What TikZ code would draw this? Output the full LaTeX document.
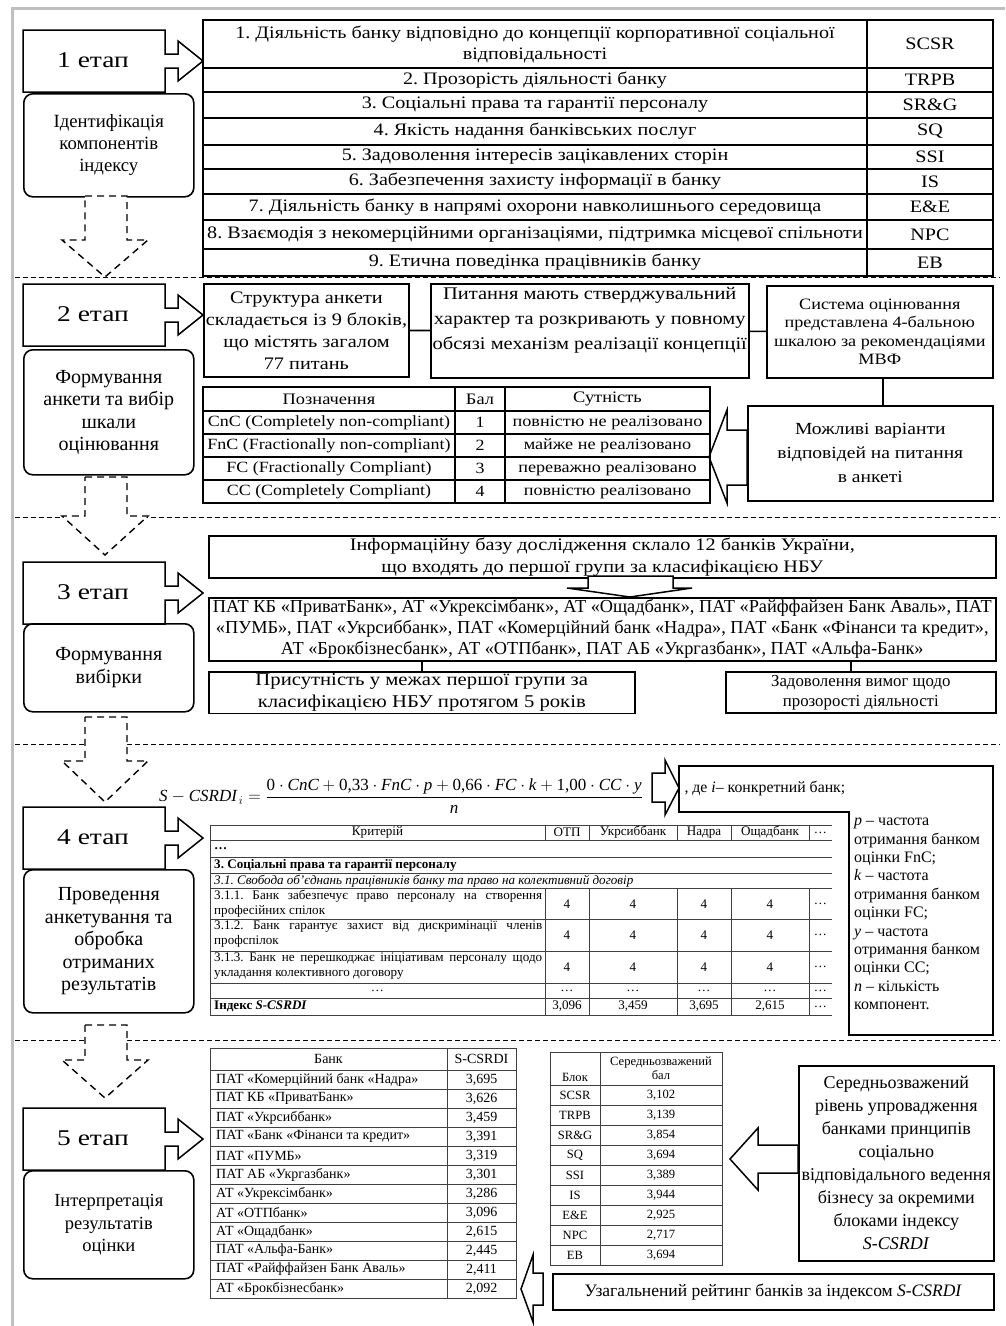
\documentclass[tikz,border=0pt]{standalone}
\usepackage{fontspec}
\usepackage{amsmath}
\setmainfont{Liberation Serif}
\newfontfamily\widefont[FakeStretch=1.15]{Liberation Serif}
\newfontfamily\widerfont[FakeStretch=1.22]{Liberation Serif}
\usetikzlibrary{positioning}
\frenchspacing

\begin{document}
\begin{tikzpicture}
  [
    x=1pt, y=-1pt,
    plainbox/.style  = {draw, line width=1.6pt, align=center, inner sep=2pt, anchor=north west},
    rbox/.style      = {plainbox, rounded corners=9pt, font=\fontsize{20}{22.5}\selectfont},
    etaplabel/.style = {font=\widerfont\fontsize{22.5}{26}\selectfont},
    txtrow/.style    = {align=center, inner sep=0pt, font=\widefont\fontsize{17.5}{21}\selectfont},
    txtwide/.style   = {align=center, font=\widefont\fontsize{18}{22}\selectfont},
    txtmid/.style    = {align=center, font=\widefont\fontsize{15.6}{19}\selectfont},
    txttab/.style    = {align=center, inner sep=0pt, font=\fontsize{13.1}{15.5}\selectfont},
    boldline/.style  = {line width=1.6pt},
    tabline/.style   = {line width=0.7pt, draw=black!75},
    stagesep/.style  = {dash pattern=on 5pt off 3pt, line width=1pt},
    dropshape/.style = {draw, dash pattern=on 7pt off 5pt, line width=1.4pt, fill=white},
    blockarrow/.style= {draw, line width=1.5pt, fill=white},
  ]

\useasboundingbox (0,0) rectangle (1005,1326);

%Grey frame of the figure
\draw[line width=3pt, black!25] (12,1326) -- (12,8) -- (1005,8);

%Dashed lines between the stages
\foreach \y in {277,517,744,1040}
  \draw[stagesep] (15,\y) -- (1000,\y);

%Stage boxes with their arrows, top of each box
\foreach [count=\i] \t in {30,284,562,807,1108}
{
\draw[blockarrow] (23,\t) -- (165,\t) -- (165,\t+24) -- (178,\t+24) -- (178,\t+11) -- (203,\t+31)
  -- (178,\t+51) -- (178,\t+38) -- (165,\t+38) -- (165,\t+62) -- (23,\t+62) -- cycle;
\node[etaplabel] (e\i) at (93,\t+30) {\i\ етап};
}

%Rounded boxes under the stage boxes
\node[rbox, minimum width=170, minimum height=103, font=\fontsize{18.7}{22}\selectfont] (r1) at (23,93)
  {Ідентифікація\\компонентів\\індексу};
\foreach [count=\i from 2] \t/\h/\txt in {349/125/{Формування\\анкети та вибір\\шкали\\оцінювання},
  623/88/{Формування\\вибірки},
  869/143/{Проведення\\анкетування та\\обробка\\отриманих\\результатів}}
  \node[rbox, minimum width=170, minimum height=\h] (r\i) at (23,\t) {\txt};
\node[rbox, minimum width=170, minimum height=108, font=\fontsize{18.5}{22.5}\selectfont] (r5) at (23,1170)
  {Інтерпретація\\результатів\\оцінки};

%Dashed arrows from stage to stage
\foreach \t/\hb/\tip in {196/240/277, 477/516/555, 717/761/802, 1025/1060/1098}
  \draw[dropshape] (85,\t) -- (127,\t) -- (127,\hb) -- (148,\hb) -- (105,\tip) -- (62,\hb) -- (85,\hb) -- cycle;

%Stage 1: components of the index
\draw[boldline] (203,20) rectangle (993,276);
\draw[boldline] (867,20) -- (867,276);
\foreach \y in {68,92,118,145,169,194,220,249}
  \draw[boldline] (203,\y) -- (993,\y);

\foreach [count=\i] \ya/\yb/\txt/\code in {
  20/68/{1. Діяльність банку відповідно до концепції корпоративної соціальної\\відповідальності}/SCSR,
  68/92/{2. Прозорість діяльності банку}/TRPB,
  92/118/{3. Соціальні права та гарантії персоналу}/{SR\&G},
  118/145/{4. Якість надання банківських послуг}/SQ,
  145/169/{5. Задоволення інтересів зацікавлених сторін}/SSI,
  169/194/{6. Забезпечення захисту інформації в банку}/IS,
  194/220/{7. Діяльність банку в напрямі охорони навколишнього середовища}/{E\&E},
  220/249/{8. Взаємодія з некомерційними організаціями, підтримка місцевої спільноти}/NPC,
  249/276/{9. Етична поведінка працівників банку}/EB}
{
\node[txtrow] (k\i) at (535,{(\ya+\yb)/2}) {\txt};
\node[txtrow] (kc\i) at (930,{(\ya+\yb)/2}) {\code};
}

%Stage 2: questionnaire
\node[plainbox, font=\widefont\fontsize{17.6}{22}\selectfont, minimum width=204, minimum height=93] (str) at (203,283)
  {Структура анкети\\складається із 9 блоків,\\що містять загалом\\77 питань};
\node[plainbox, minimum width=318, minimum height=94] (pyt) at (430,283) {};
\node[align=center, anchor=north, font=\widefont\fontsize{17.8}{25}\selectfont] (pyttxt) at ([yshift=-1pt]pyt.north)
  {Питання мають стверджувальний\\характер та розкривають у повному\\обсязі механізм реалізації концепції};
\node[plainbox, font=\widefont\fontsize{15.8}{18.5}\selectfont, minimum width=226, minimum height=92] (sys) at (766,285)
  {Система оцінювання\\представлена 4-бальною\\шкалою за рекомендаціями\\МВФ};
\node[plainbox, font=\widefont\fontsize{17}{24}\selectfont, minimum width=245, minimum height=95] (mozh) at (747,405)
  {Можливі варіанти\\відповідей на питання\\в анкеті};

\draw[boldline] (str) -- (pyt);
\draw[boldline] (pyt) -- (sys);
\draw[boldline] ([xshift=3pt]sys.south) -- ([xshift=3pt]sys.south |- mozh.north);

\draw[blockarrow] (mozh.west |- 0,430) -- (727,430) -- (727,410) -- (709,457) -- (727,503)
  -- (727,485) -- (mozh.west |- 0,485) -- cycle;

\draw[boldline] (203,387) rectangle (710,503);
\draw[boldline] (455,387) -- (455,503);
\draw[boldline] (505,387) -- (505,503);
\foreach \y in {411,434,457,480}
  \draw[boldline] (203,\y) -- (710,\y);

\node[txtmid, font=\widefont\fontsize{16}{19}\selectfont] (hd1) at (329,399) {Позначення};
\node[txtmid, font=\widefont\fontsize{16}{19}\selectfont] (hd2) at (480,399) {Бал};
\node[txtmid, font=\widefont\fontsize{16}{19}\selectfont] (hd3) at (607.5,399) {Сутність};
\foreach [count=\i] \lab/\what in {{CnC (Completely non-compliant)}/{повністю не реалізовано},
  {FnC (Fractionally non-compliant)}/{майже не реалізовано},
  {FC (Fractionally Compliant)}/{переважно реалізовано},
  {CC (Completely Compliant)}/{повністю реалізовано}}
{
\node[txtmid] (sc\i) at (329,{411+23*\i-11.5}) {\lab};
\node[txtmid] (sb\i) at (480,{411+23*\i-11.5}) {\i};
\node[txtmid, font=\widefont\fontsize{15.8}{19}\selectfont] (sw\i) at (607.5,{411+23*\i-11.5}) {\what};
}

%Stage 3: sample of banks
\node[plainbox, font=\widefont\fontsize{17.6}{22}\selectfont, minimum width=787, minimum height=41] (info) at (208,535)
  {Інформаційну базу дослідження склало 12 банків України,\\що входять до першої групи за класифікацією НБУ};
\node[plainbox, font=\fontsize{18.3}{21}\selectfont, minimum width=787, minimum height=60] (banks) at (208,597)
  {ПАТ КБ «ПриватБанк», АТ «Укрексімбанк», АТ «Ощадбанк», ПАТ «Райффайзен Банк Аваль», ПАТ\\
   «ПУМБ», ПАТ «Укрсиббанк», ПАТ «Комерційний банк «Надра», ПАТ «Банк «Фінанси та кредит»,\\
   АТ «Брокбізнесбанк», АТ «ОТПбанк», ПАТ АБ «Укргазбанк», ПАТ «Альфа-Банк»};
\node[plainbox, txtwide, minimum width=426, minimum height=41] (pres) at (208,671)
  {Присутність у межах першої групи за\\класифікацією НБУ протягом 5 років};
\node[plainbox, font=\fontsize{16.8}{20}\selectfont, minimum width=270, minimum height=41] (zad) at (725,671)
  {Задоволення вимог щодо\\прозорості діяльності};

\draw[blockarrow] (588,576) -- (673,576) -- (673,588) -- (692,588) -- (630,597) -- (567,588) -- (588,588) -- cycle;
\draw[boldline] (pres.north) -- (pres.north |- banks.south);
\draw[boldline] ([xshift=-10pt]zad.north) -- ([xshift=-10pt]zad.north |- banks.south);

%Stage 4: formula and survey table
\node[anchor=west, inner sep=0pt, font=\fontsize{17}{21}\selectfont] (frm) at (159,796)
  {$\textit{S}-\textit{CSRDI}_{\,i}=\dfrac{\text{0}\cdot\textit{CnC}+\text{0,33}\cdot\textit{FnC}\cdot\textit{p}
   +\text{0,66}\cdot\textit{FC}\cdot\textit{k}+\text{1,00}\cdot\textit{CC}\cdot\textit{y}}{\textit{n}}$};

\draw[blockarrow] (652,773) -- (665,773) -- (665,760) -- (679,788) -- (665,815) -- (665,802) -- (652,802) -- cycle;
\draw[boldline] (679,766) -- (993,766) -- (993,1035) -- (849,1035) -- (849,812) -- (679,812) -- cycle;
\node[anchor=west, font=\fontsize{15.8}{18.4}\selectfont] (de) at (681,789) {, де \textit{i}– конкретний банк;};
\node[anchor=north west, align=left, inner sep=0pt, font=\fontsize{16}{18.4}\selectfont] (legend) at (854,818)
  {\textit{p} – частота\\отримання банком\\оцінки FnC;\\\textit{k} – частота\\отримання банком\\оцінки FC;\\
   \textit{y} – частота\\отримання банком\\оцінки CC;\\\textit{n} – кількість\\компонент.};

\foreach \y in {825,840,857,873,888,919,951,983,998,1015}
  \draw[tabline] (210,\y) -- (832,\y);
\draw[tabline] (210,825) -- (210,1015);
\foreach \x in {545,589,677,731,809}
{
\draw[tabline] (\x,825) -- (\x,840);
\draw[tabline] (\x,888) -- (\x,1015);
}

\node[txttab] (crit) at (377.5,832.5) {Критерій};
\foreach [count=\i] \x/\t in {567/ОТП, 633/Укрсиббанк, 704/Надра, 770/Ощадбанк, 820.5/…}
  \node[txttab] (h\i) at (\x,832.5) {\t};
\node[txttab, anchor=west] (dots0) at (214,849) {\textbf{…}};
\node[txttab, anchor=west] (blk3) at (214,865) {\textbf{3. Соціальні права та гарантії персоналу}};
\node[txttab, anchor=west] (sub31) at (214,881) {\textit{3.1. Свобода об’єднань працівників банку та право на колективний договір}};

\foreach [count=\j] \y/\t in {888/{3.1.1. Банк забезпечує право персоналу на створення\linebreak професійних спілок},
  919/{3.1.2. Банк гарантує захист від дискримінації членів\linebreak профспілок},
  951/{3.1.3. Банк не перешкоджає ініціативам персоналу щодо\linebreak укладання колективного договору}}
{
\node[txttab, anchor=north west, text width=328, align=justify] (q\j) at (214,\y+1.5) {\t};
\foreach [count=\i] \x in {567,633,704,770}
  \node[txttab] (v\j\i) at (\x,\y+16) {4};
\node[txttab] (d\j) at (820.5,\y+16) {…};
}

\foreach [count=\i] \x in {377.5,567,633,704,770,820.5}
  \node[txttab] (m\i) at (\x,990.5) {…};
\node[txttab, anchor=west] (idx) at (214,1006.5) {\textbf{Індекс \textit{S-CSRDI}}};
\foreach [count=\i] \x/\v in {567/{3,096}, 633/{3,459}, 704/{3,695}, 770/{2,615}, 820.5/…}
  \node[txttab] (ix\i) at (\x,1006.5) {\v};

%Stage 5: ranking of banks
\draw[tabline] (210,1048) rectangle (516,1298);
\draw[tabline] (447,1048) -- (447,1298);
\foreach \k in {0,...,11}
  \draw[tabline] (210,1070+19*\k) -- (516,1070+19*\k);
\node[txttab, font=\fontsize{14}{16}\selectfont] (bh1) at (328.5,1059) {Банк};
\node[txttab, font=\fontsize{14}{16}\selectfont] (bh2) at (481.5,1059) {S-CSRDI};
\foreach [count=\i] \b/\v in {{ПАТ «Комерційний банк «Надра»}/{3,695}, {ПАТ КБ «ПриватБанк»}/{3,626},
  {ПАТ «Укрсиббанк»}/{3,459}, {ПАТ «Банк «Фінанси та кредит»}/{3,391}, {ПАТ «ПУМБ»}/{3,319},
  {ПАТ АБ «Укргазбанк»}/{3,301}, {АТ «Укрексімбанк»}/{3,286}, {АТ «ОТПбанк»}/{3,096},
  {АТ «Ощадбанк»}/{2,615}, {ПАТ «Альфа-Банк»}/{2,445}, {ПАТ «Райффайзен Банк Аваль»}/{2,411},
  {АТ «Брокбізнесбанк»}/{2,092}}
{
\node[txttab, anchor=west, font=\fontsize{14}{16}\selectfont] (b\i) at (216,{1070+19*\i-9.5}) {\b};
\node[txttab, font=\fontsize{14}{16}\selectfont] (s\i) at (481.5,{1070+19*\i-9.5}) {\v};
}

%Stage 5: blocks of the index
\draw[tabline] (550,1052) rectangle (722,1265);
\draw[tabline] (600,1052) -- (600,1265);
\foreach \k in {0,...,8}
  \draw[tabline] (550,1085+20*\k) -- (722,1085+20*\k);
\node[txttab, font=\fontsize{12.6}{14.5}\selectfont] (gh1) at (575,1077) {Блок};
\node[txttab, font=\fontsize{12.6}{14.5}\selectfont] (gh2) at (661,1068) {Середньозважений\\бал};
\foreach [count=\i] \b/\v in {SCSR/{3,102}, TRPB/{3,139}, {SR\&G}/{3,854}, SQ/{3,694}, SSI/{3,389},
  IS/{3,944}, {E\&E}/{2,925}, NPC/{2,717}, EB/{3,694}}
{
\node[txttab, font=\fontsize{12.6}{14.5}\selectfont] (g\i) at (575,{1085+20*\i-10}) {\b};
\node[txttab, font=\fontsize{12.6}{14.5}\selectfont] (w\i) at (661,{1085+20*\i-10}) {\v};
}

\node[plainbox, font=\fontsize{18}{23}\selectfont, minimum width=195, minimum height=195] (avg) at (798,1065)
  {Середньозважений\\рівень упровадження\\банками принципів\\соціально\\відповідального ведення\\бізнесу за окремими\\блоками індексу\\\textit{S-CSRDI}};
\node[plainbox, font=\fontsize{17.5}{21}\selectfont, minimum width=441, minimum height=36] (rate) at (552,1273)
  {Узагальнений рейтинг банків за індексом \textit{S-CSRDI}};

\draw[blockarrow] (avg.west |- 0,1145) -- (758,1145) -- (758,1128) -- (730,1159) -- (758,1190)
  -- (758,1173) -- (avg.west |- 0,1173) -- cycle;
\draw[blockarrow] (543,1273) -- (533,1273) -- (533,1255) -- (521,1289) -- (533,1322) -- (533,1305) -- (543,1305) -- cycle;

\end{tikzpicture}
\end{document}
